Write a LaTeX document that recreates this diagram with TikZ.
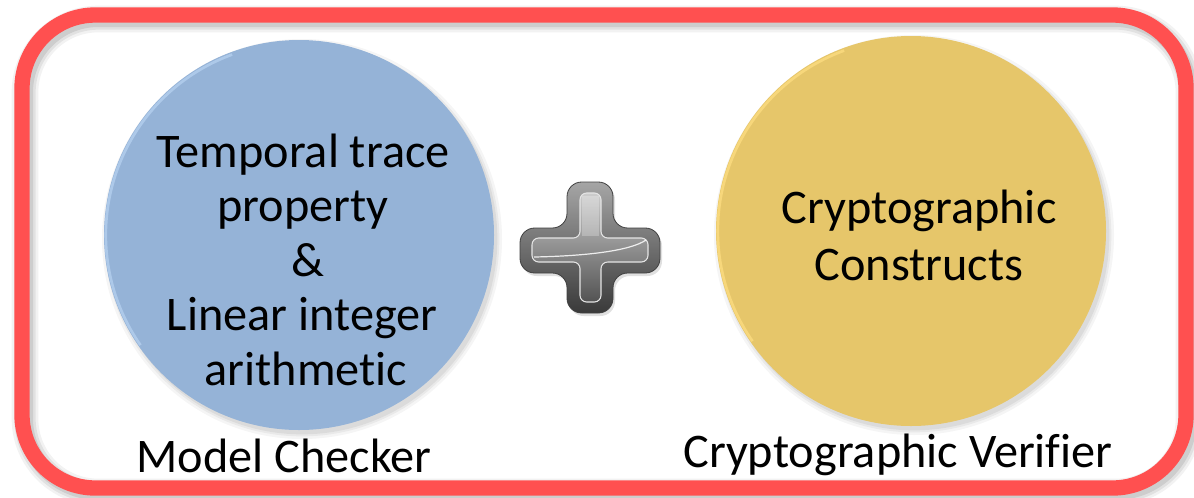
\documentclass[tikz,border=0pt]{standalone}
\usepackage{fontspec}
\setmainfont[Ligatures=NoCommon]{Carlito}
\definecolor{frameRed}{HTML}{FF5050}
\definecolor{blueFill}{HTML}{95B3D7}
\definecolor{blueRim}{HTML}{B4CFEE}
\definecolor{goldFill}{HTML}{E6C66A}
\definecolor{goldRim}{HTML}{FCDC80}
\begin{document}
\begin{tikzpicture}[x=0.75pt,y=-0.75pt,
  frame/.style={draw=frameRed, line width=11.5pt, rounded corners=55pt},
  frameshade/.style={draw=black, rounded corners=55pt},
  bubble/.style={circle, minimum size=292.5pt, inner sep=0pt, draw=none},
  bubbleshade/.style={circle, inner sep=0pt, draw=none, fill=black},
  txt/.style={font=\fontsize{36.2pt}{42pt}\selectfont, inner sep=0pt, anchor=base},
  plusrim/.style={rounded corners=11pt, draw=gray!50!black, line width=0.6pt,
                  top color=gray!70, bottom color=gray!45!black},
  plusface/.style={rounded corners=5pt, draw=gray!20, line width=0.8pt,
                   top color=gray!40, bottom color=gray!65!black}]
\useasboundingbox (0,0) rectangle (1194,497);

% soft shadow of the outer frame
\foreach \w/\o in {20/0.05, 16/0.07, 12/0.09}
  \draw[frameshade, line width=\w pt, opacity=\o] (25,19) rectangle (1189,492);
% outer frame
\draw[frame] (22,15) rectangle (1186,488);

% soft shadows under the two discs
\foreach \s/\o in {300/0.04, 296/0.05, 293/0.06}{
  \node[bubbleshade, minimum size=\s pt, opacity=\o] at (302,239) {};
  \node[bubbleshade, minimum size=\s pt, opacity=\o] at (914,235) {};
}

% model checker disc
\node[bubble, fill=blueFill] (mc) at (299,235) {};
\draw[blueRim, line width=2pt, opacity=0.8]
  ([shift={(-1.2,0)}]mc.center) ++(110:144pt) arc[start angle=110, end angle=215, radius=144pt];
\node[txt] (mc1) at (303,167) {Temporal trace};
\node[txt] (mc2) at (303,221.5) {property};
\node[txt] (mc3) at (308,276) {\&};
\node[txt] (mc4) at (302,330.5) {Linear integer};
\node[txt] (mc5) at (306,385) {arithmetic};
\node[txt] (mclabel) at (284,472) {Model Checker};

% cryptographic verifier disc
\node[bubble, fill=goldFill] (cv) at (911,231) {};
\draw[goldRim, line width=2pt, opacity=0.8]
  ([shift={(-1.2,0)}]cv.center) ++(110:144pt) arc[start angle=110, end angle=215, radius=144pt];
\node[txt] (cv1) at (919,223) {Cryptographic};
\node[txt] (cv2) at (919,280) {Constructs};
\node[txt] (cvlabel) at (898,467) {Cryptographic Verifier};

% metallic plus sign
\fill[black, opacity=0.12, rounded corners=11pt]
  (569,185) -- (615,185) -- (615,231) -- (662,231) -- (662,276) -- (615,276)
  -- (615,316) -- (569,316) -- (569,276) -- (522,276) -- (522,231) -- (569,231) -- cycle;
\path[plusrim]
  (567,182) -- (613,182) -- (613,228) -- (660,228) -- (660,273) -- (613,273)
  -- (613,313) -- (567,313) -- (567,273) -- (520,273) -- (520,228) -- (567,228) -- cycle;
\path[plusface]
  (580,193) -- (601,193) -- (601,238) -- (648,238) -- (648,262) -- (601,262)
  -- (601,302) -- (580,302) -- (580,262) -- (532,262) -- (532,238) -- (580,238) -- cycle;
\fill[white, opacity=0.25] (582,196) rectangle (599,236);
\draw[white, line width=0.9pt, opacity=0.85]
  (534,257) .. controls (585,256) and (630,251) .. (646,240);
\end{tikzpicture}
\end{document}
